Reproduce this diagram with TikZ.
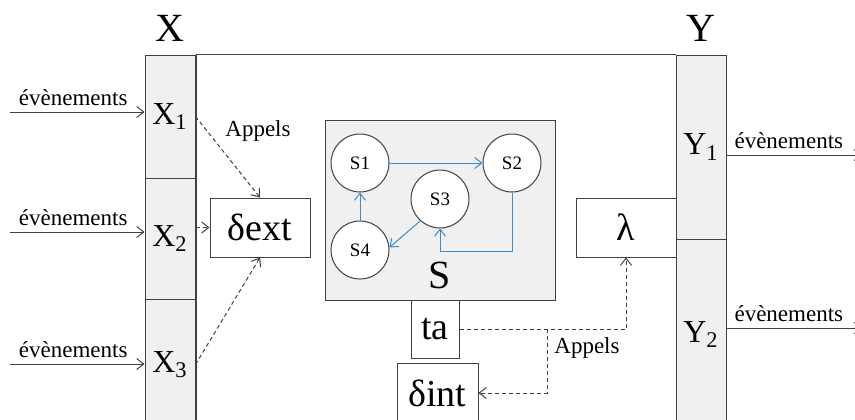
\documentclass[tikz,border=0pt]{standalone}
\usepackage{fontspec}
\setmainfont{Liberation Serif}
\newfontfamily\timesf{Liberation Serif}
\usetikzlibrary{calc}
\usetikzlibrary{positioning}
\usetikzlibrary{arrows.meta}

\definecolor{cellgray}{RGB}{240,240,240}
\definecolor{stateblue}{RGB}{58,140,205}
\definecolor{linegray}{RGB}{64,64,64}

\begin{document}
\begin{tikzpicture}[x=0.5pt, y=-0.5pt, line width=0.5pt,
		>={Straight Barb[length=3.5pt,width=5.5pt]},
		cell/.style={draw=linegray, fill=cellgray, minimum width=25pt, inner sep=0pt, font=\timesf\fontsize{16}{18}\selectfont},
		func/.style={draw=linegray, fill=white, inner sep=0pt, font=\timesf\fontsize{19}{21}\selectfont},
		state/.style={circle, draw=linegray, fill=white, minimum size=29pt, inner sep=0pt, font=\timesf\fontsize{9.5}{11}\selectfont},
		trans/.style={->, draw=stateblue},
		call/.style={->, draw=linegray, dash pattern=on 2pt off 1.5pt},
		evt/.style={font=\timesf\fontsize{11.5}{13}\selectfont, text=black, inner sep=3pt},
		big/.style={font=\timesf\fontsize{20}{22}\selectfont}]
		\useasboundingbox (0,0) rectangle (855,419);
		\clip (0,0) rectangle (855,419);

		% ports
		\node[cell, minimum height=61.5pt] (X1) at (170,116.5) {X\textsubscript{1}};
		\node[cell, minimum height=60.5pt] (X2) at (170,238.5) {X\textsubscript{2}};
		\node[cell, minimum height=65.5pt] (X3) at (170,364.5) {X\textsubscript{3}};
		\node[cell, minimum height=92pt] (Y1) at (701,147) {Y\textsubscript{1}};
		\node[cell, minimum height=95.5pt] (Y2) at (701,334.5) {Y\textsubscript{2}};
		\node[big] (Xlab) at (170,28) {X};
		\node[big] (Ylab) at (701,28) {Y};

		\draw[linegray] (X1.north east) -- (Y1.north west);
		\draw[linegray, line width=1pt] (X1.north east) -- (X3.south east);

		% functions
		\node[func, minimum width=50pt, minimum height=29.5pt] (dext) at (260,227.5) {δext};
		\node[func, minimum width=50pt, minimum height=29.5pt] (lam) at (626,227.5) {λ};
		\node[draw=linegray, fill=cellgray, minimum width=115pt, minimum height=90pt] (Sbox) at (440,210) {};
		\node[big] (Slab) at (440,275) {S};
		\node[func, minimum width=24pt, minimum height=29pt] (ta) at (435,329) {ta};
		\node[func, minimum width=40.5pt, minimum height=30pt] (dint) at (437.5,393) {δint};

		% states
		\node[state] (S1) at (360,163) {S1};
		\node[state] (S2) at (512,163) {S2};
		\node[state] (S3) at (440,199) {S3};
		\node[state] (S4) at (360,250) {S4};
		\coordinate (back) at (512,251);
		\draw[trans] (S1) -- (S2);
		\draw[trans] (S4) -- (S1);
		\draw[trans] (S3.228) -- (S4.5);
		\draw[trans] (S2.south) -- (back) -| (S3.south);

		% events
		\foreach \i/\y in {1/112, 2/232, 3/364} {
			\coordinate (in\i) at (10,\y);
			\draw[->, linegray] (in\i) -- (in\i -| X\i.west) node[pos=0.47, above, evt] {évènements};
		}
		\foreach \i/\y in {1/155, 2/328} {
			\coordinate (out\i) at (862,\y);
			\draw[->, linegray] (out\i -| Y\i.east) -- (out\i) node[pos=0.46, above, evt] {évènements};
		}

		% calls
		\draw[call] (X1.east) -- (dext.north);
		\draw[call] (X2.east |- dext.west) -- (dext.west);
		\draw[call] (X3.east) -- (dext.south);
		\node[evt] (app1) at (258,131) {Appels};
		\coordinate (split) at (547,329);
		\draw[call] (ta.east) -| (lam.south);
		\draw[call] (split) |- (dint.east);
		\node[evt] (app2) at (587,348) {Appels};
\end{tikzpicture}
\end{document}
